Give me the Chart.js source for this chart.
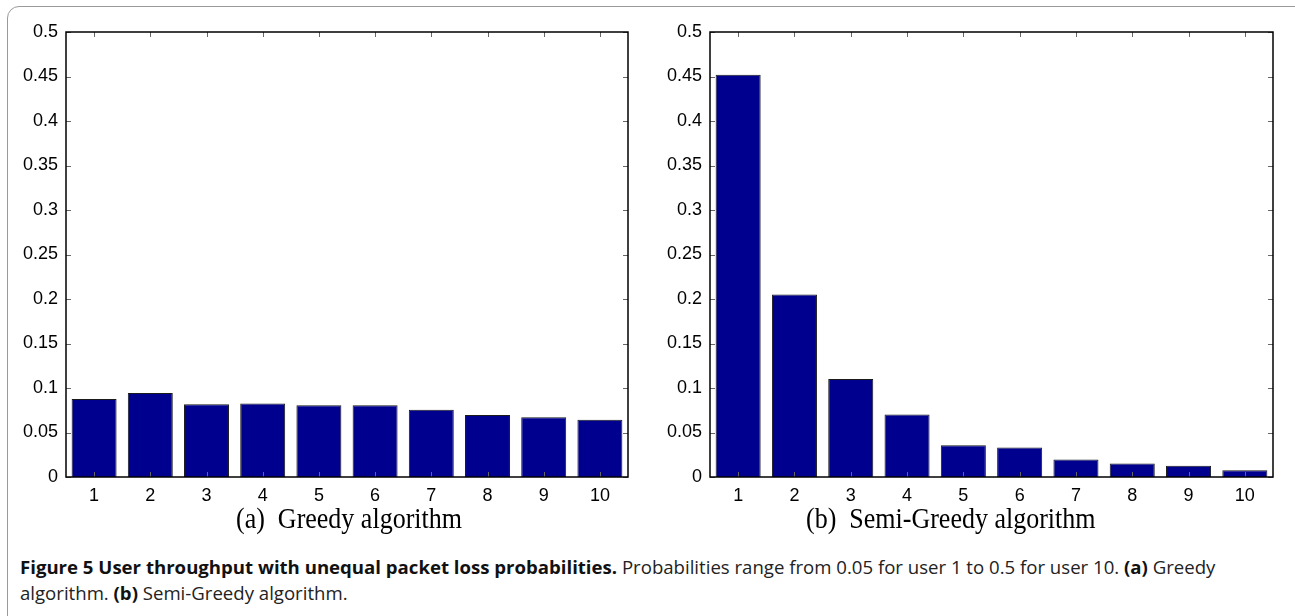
<!DOCTYPE html>
<html>
<head>
<meta charset="utf-8">
<script src="https://cdn.jsdelivr.net/npm/chart.js@4.4.1/dist/chart.umd.min.js"></script>
<style>
  body { margin: 0; background: #fff; width: 1295px; height: 616px; overflow: hidden; position: relative; }
  .frame { position: absolute; left: 7px; top: 6px; width: 1300px; height: 700px; border: 1px solid #9a9a9a; border-radius: 12px; box-sizing: border-box; }
  canvas { position: absolute; top: 0; }
  #left { left: 0; }
  #right { left: 645px; }
  .sub { position: absolute; top: 502px; font-family: "Liberation Serif", "DejaVu Serif", serif; font-size: 26px; transform: scaleY(1.15); transform-origin: top; white-space: nowrap; }
  .caption { position: absolute; left: 20px; top: 554px; font-family: "Open Sans", "Noto Sans", sans-serif; font-size: 18.6px; line-height: 26px; color: #222; width: 1228px; }
  .caption b { color: #111; }
</style>
</head>
<body>
<div class="frame"></div>
<canvas id="left" width="650" height="505"></canvas>
<canvas id="right" width="650" height="505"></canvas>
<div class="sub" id="subA" style="left:236px">(a)&nbsp; Greedy algorithm</div>
<div class="sub" id="subB" style="left:806px">(b)&nbsp; Semi-Greedy algorithm</div>
<div class="caption"><b>Figure 5 User throughput with unequal packet loss probabilities.</b> Probabilities range from 0.05 for user 1 to 0.5 for user 10. <b>(a)</b> Greedy algorithm. <b>(b)</b> Semi-Greedy algorithm.</div>
<script>
const users = ['1', '2', '3', '4', '5', '6', '7', '8', '9', '10'];
const greedy = [0.0877, 0.0944, 0.0817, 0.0825, 0.0806, 0.0806, 0.0757, 0.0698, 0.0672, 0.0642];
const semiGreedy = [0.452, 0.205, 0.110, 0.0701, 0.0358, 0.0332, 0.0198, 0.0153, 0.0127, 0.0075];
const yTicks = [0, 0.05, 0.1, 0.15, 0.2, 0.25, 0.3, 0.35, 0.4, 0.45, 0.5];

// matlab style box with inward ticks on all four sides
const boxTicks = {
  id: 'boxTicks',
  afterDraw(chart) {
    const { ctx, chartArea: a, scales: { x, y } } = chart;
    const len = 5;
    ctx.save();
    ctx.strokeStyle = '#666';
    ctx.lineWidth = 1;
    ctx.beginPath();
    x.ticks.forEach((t, i) => {
      const px = Math.round(x.getPixelForTick(i)) + 0.5;
      ctx.moveTo(px, a.bottom); ctx.lineTo(px, a.bottom - len);
      ctx.moveTo(px, a.top); ctx.lineTo(px, a.top + len);
    });
    y.ticks.forEach((t, i) => {
      const py = Math.round(y.getPixelForTick(i)) + 0.5;
      ctx.moveTo(a.left, py); ctx.lineTo(a.left + len, py);
      ctx.moveTo(a.right, py); ctx.lineTo(a.right - len, py);
    });
    ctx.stroke();
    ctx.strokeStyle = '#000';
    ctx.lineWidth = 1.5;
    ctx.strokeRect(a.left, a.top, a.right - a.left, a.bottom - a.top);
    ctx.restore();
  }
};

function renderBars(id, values, yWidth) {
  const tickFont = { family: '"Liberation Sans", Arial, sans-serif', size: 18 };
  const config = {
    type: 'bar',
    data: {
      labels: users,
      datasets: [{
        data: values,
        backgroundColor: '#00008f',
        borderColor: '#1a1a1a',
        borderWidth: 1,
        barPercentage: 0.8,
        categoryPercentage: 1
      }]
    },
    options: {
      responsive: false,
      animation: false,
      devicePixelRatio: 1,
      layout: { padding: { top: 32, right: 22, left: 0, bottom: 0 } },
      plugins: { legend: { display: false }, tooltip: { enabled: false } },
      scales: {
        x: {
          offset: true,
          grid: { display: false },
          border: { display: false },
          ticks: { color: '#000', padding: 0, font: tickFont },
          afterFit: s => { s.height = 28; }
        },
        y: {
          min: 0,
          max: 0.5,
          grid: { display: false },
          border: { display: false },
          afterBuildTicks: s => { s.ticks = yTicks.map(v => ({ value: v })); },
          ticks: {
            color: '#000',
            padding: 0,
            font: tickFont,
            callback: v => String(+(+v).toFixed(2))
          },
          afterFit: s => { s.width = yWidth; }
        }
      }
    },
    plugins: [boxTicks]
  };
  return new Chart(document.getElementById(id), config);
}

document.fonts.load('18px "Liberation Sans"').then(() => {
  renderBars('left', greedy, 66);
  renderBars('right', semiGreedy, 65);
});
</script>
</body>
</html>
